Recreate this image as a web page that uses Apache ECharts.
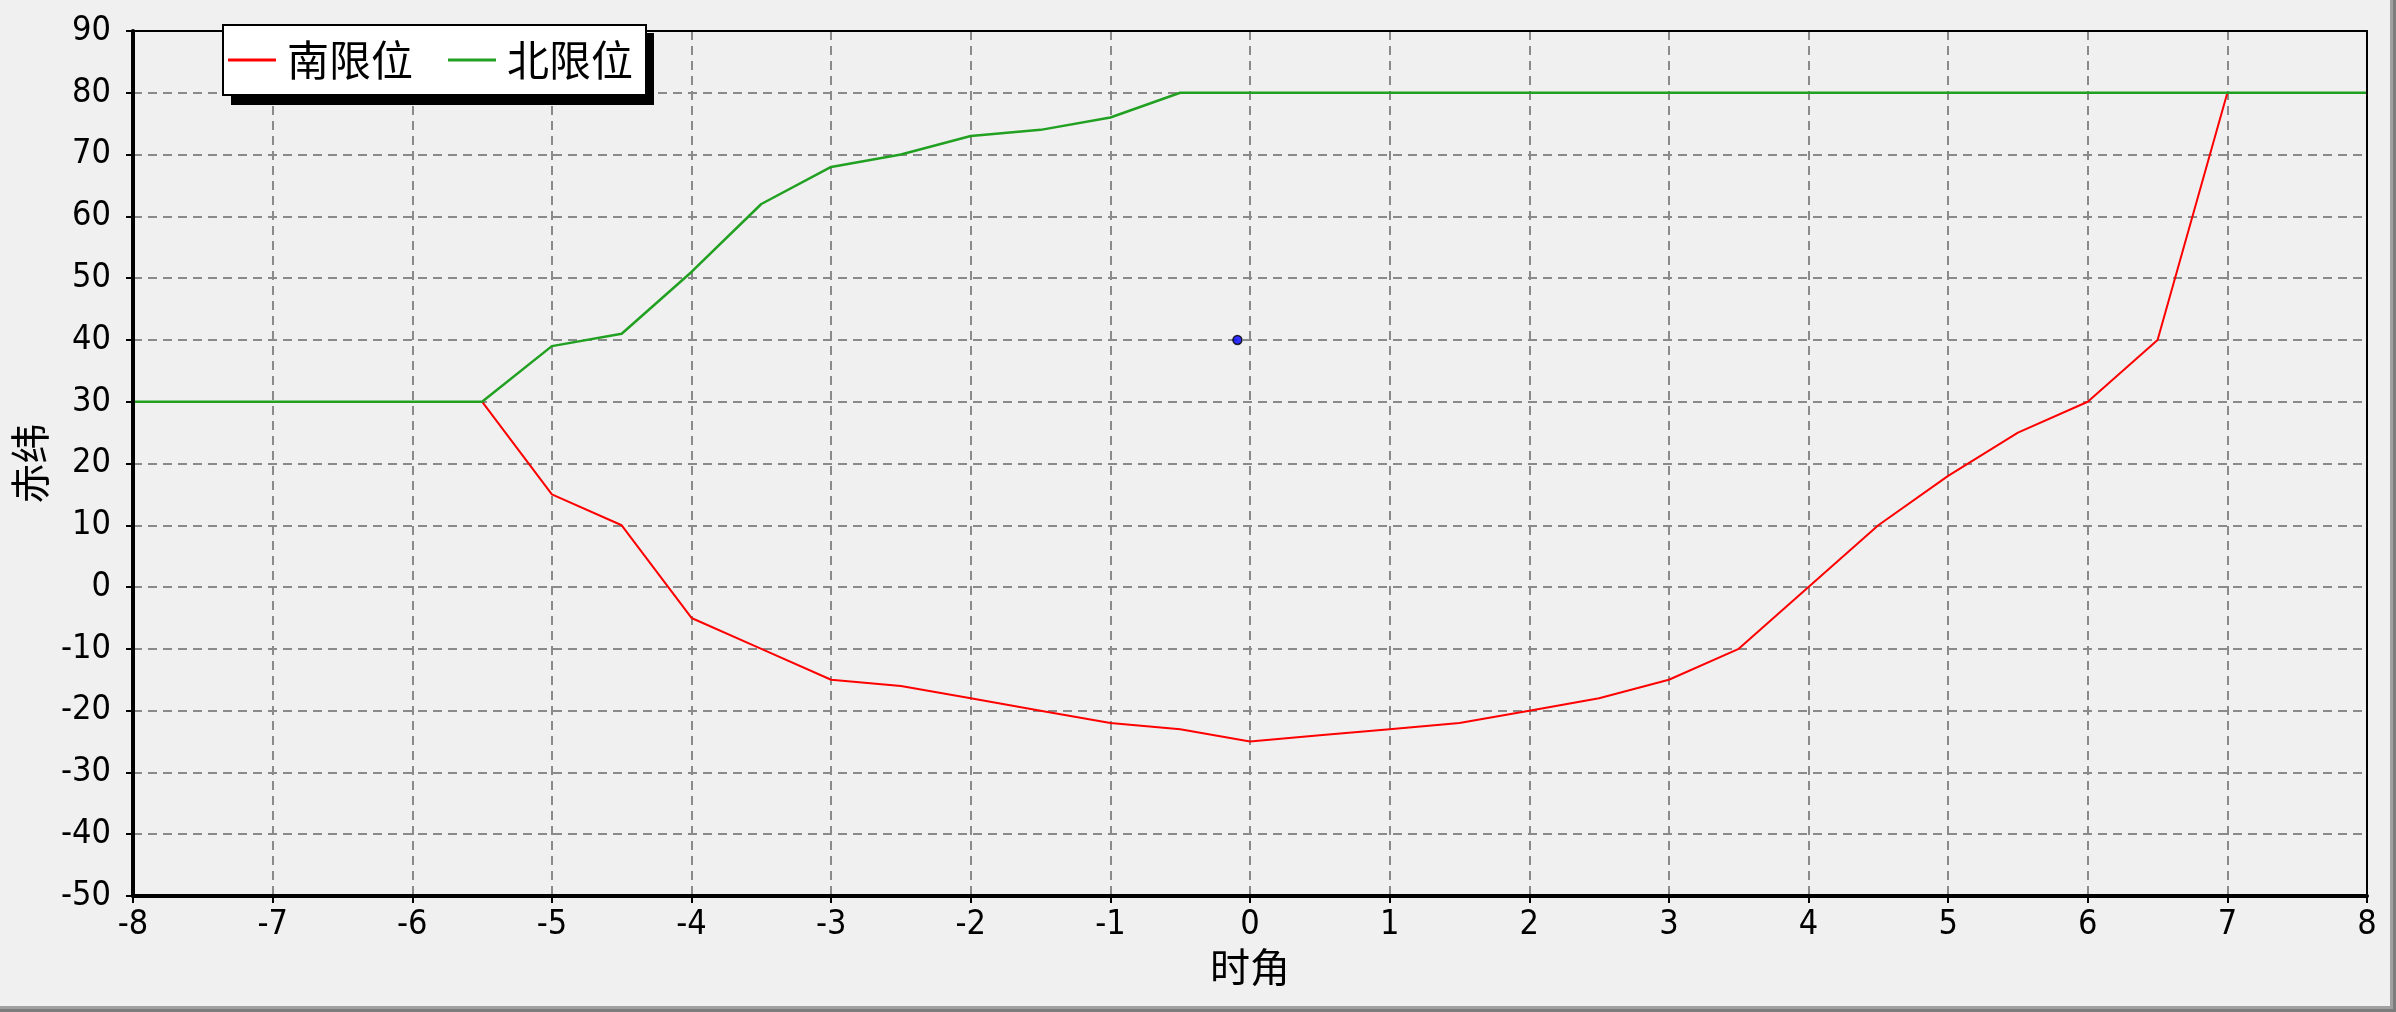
<!DOCTYPE html>
<html>
<head>
<meta charset="utf-8">
<script src="https://cdn.jsdelivr.net/npm/echarts@6/dist/echarts.min.js"></script>
<style>
html,body{margin:0;padding:0;background:#f0f0f0;}
#chart{width:2396px;height:1012px;}
</style>
</head>
<body>
<div id="chart"></div>
<script>
// ---- data ----
const seriesNames = ['南限位', '北限位'];
const southX = [-5.5, -5, -4.5, -4, -3.5, -3, -2.5, -2, -1.5, -1, -0.5, 0, 0.5, 1, 1.5, 2, 2.5, 3, 3.5, 4, 4.5, 5, 5.5, 6, 6.5, 7];
const southY = [30, 15, 10, -5, -10, -15, -16, -18, -20, -22, -23, -25, -24, -23, -22, -20, -18, -15, -10, 0, 10, 18, 25, 30, 40, 80];
const northX = [-8, -5.5, -5, -4.5, -4, -3.5, -3, -2.5, -2, -1.5, -1, -0.5, 8];
const northY = [30, 30, 39, 41, 51, 62, 68, 70, 73, 74, 76, 80, 80];
const pointX = [-0.09];
const pointY = [40];
const xName = '时角';
const yName = '赤纬';
const xRange = [-8, 8, 1];
const yRange = [-50, 90, 10];

const zip = (xs, ys) => xs.map((x, i) => [x, ys[i]]);

const labelFont = "'Liberation Sans Narrow', 'DejaVu Sans Condensed', 'Arial Narrow', sans-serif";
const cjkFont = "'Noto Sans CJK SC', sans-serif";

const chart = echarts.init(document.getElementById('chart'), null, {renderer: 'canvas'});

const edgeAxis = (pos, width) => ({
  gridIndex: 0, type: 'value', position: pos, z: 10,
  min: pos === 'top' || pos === 'bottom' ? xRange[0] : yRange[0],
  max: pos === 'top' || pos === 'bottom' ? xRange[1] : yRange[1],
  axisLine: {show: true, onZero: false, lineStyle: {color: '#000', width: width}},
  axisTick: {show: false}, axisLabel: {show: false}, splitLine: {show: false}
});

chart.setOption({
  backgroundColor: '#f0f0f0',
  animation: false,
  grid: {left: 133, right: 29, top: 31, bottom: 116, show: false},
  legend: {
    left: 223, top: 25,
    data: [{name: seriesNames[0], icon: 'rect'}, {name: seriesNames[1], icon: 'rect'}],
    itemWidth: 48, itemHeight: 3, itemGap: 35,
    padding: [14, 13, 14, 5],
    backgroundColor: '#ffffff', borderColor: '#000', borderWidth: 2,
    textStyle: {fontSize: 42, fontFamily: cjkFont, color: '#000', padding: [0, 0, 0, 6]},
    z: 20
  },
  xAxis: [
    {
      type: 'value', min: xRange[0], max: xRange[1], interval: xRange[2],
      name: xName, nameLocation: 'middle', nameGap: 45,
      nameTextStyle: {fontSize: 40, fontFamily: cjkFont, color: '#000'},
      axisLine: {show: false, onZero: false},
      axisTick: {show: true, inside: false, length: 7, lineStyle: {color: '#000', width: 2}},
      axisLabel: {fontSize: 34, fontFamily: labelFont, color: '#000', margin: 12},
      splitLine: {show: true, lineStyle: {color: '#8a8a8a', width: 2, type: [9, 6]}}
    },
    edgeAxis('bottom', 4),
    edgeAxis('top', 2)
  ],
  yAxis: [
    {
      type: 'value', min: yRange[0], max: yRange[1], interval: yRange[2],
      name: yName, nameLocation: 'middle', nameGap: 80,
      nameTextStyle: {fontSize: 40, fontFamily: cjkFont, color: '#000'},
      axisLine: {show: false, onZero: false},
      axisTick: {show: true, inside: false, length: 7, lineStyle: {color: '#000', width: 2}},
      axisLabel: {fontSize: 34, fontFamily: labelFont, color: '#000', margin: 22},
      splitLine: {show: true, lineStyle: {color: '#8a8a8a', width: 2, type: [9, 6]}}
    },
    edgeAxis('left', 4),
    edgeAxis('right', 2)
  ],
  graphic: [
    // legend drop shadow
    {type: 'rect', shape: {x: 231, y: 33, width: 423, height: 72}, style: {fill: '#000'}, z: 15},
    // panel bevel
    {type: 'rect', shape: {x: 2390, y: 0, width: 6, height: 1012}, style: {fill: '#a0a0a0'}, z: 30},
    {type: 'rect', shape: {x: 0, y: 1006, width: 2396, height: 6}, style: {fill: '#a0a0a0'}, z: 30},
    {type: 'rect', shape: {x: 2393, y: 0, width: 3, height: 1012}, style: {fill: '#7c7c7c'}, z: 31},
    {type: 'rect', shape: {x: 0, y: 1009, width: 2396, height: 3}, style: {fill: '#7c7c7c'}, z: 31}
  ],
  series: [
    {
      name: seriesNames[0], type: 'line', data: zip(southX, southY),
      showSymbol: false, symbol: 'none', color: '#ff0000',
      lineStyle: {color: '#ff0000', width: 2}, z: 5
    },
    {
      name: seriesNames[1], type: 'line', data: zip(northX, northY),
      showSymbol: false, symbol: 'none', color: '#22a022',
      lineStyle: {color: '#22a022', width: 2.5}, z: 5
    },
    {
      name: 'point', type: 'scatter', data: zip(pointX, pointY),
      symbol: 'circle', symbolSize: 9,
      itemStyle: {color: '#0000ff', borderColor: '#000', borderWidth: 1.5}, z: 6
    }
  ]
});
</script>
</body>
</html>
